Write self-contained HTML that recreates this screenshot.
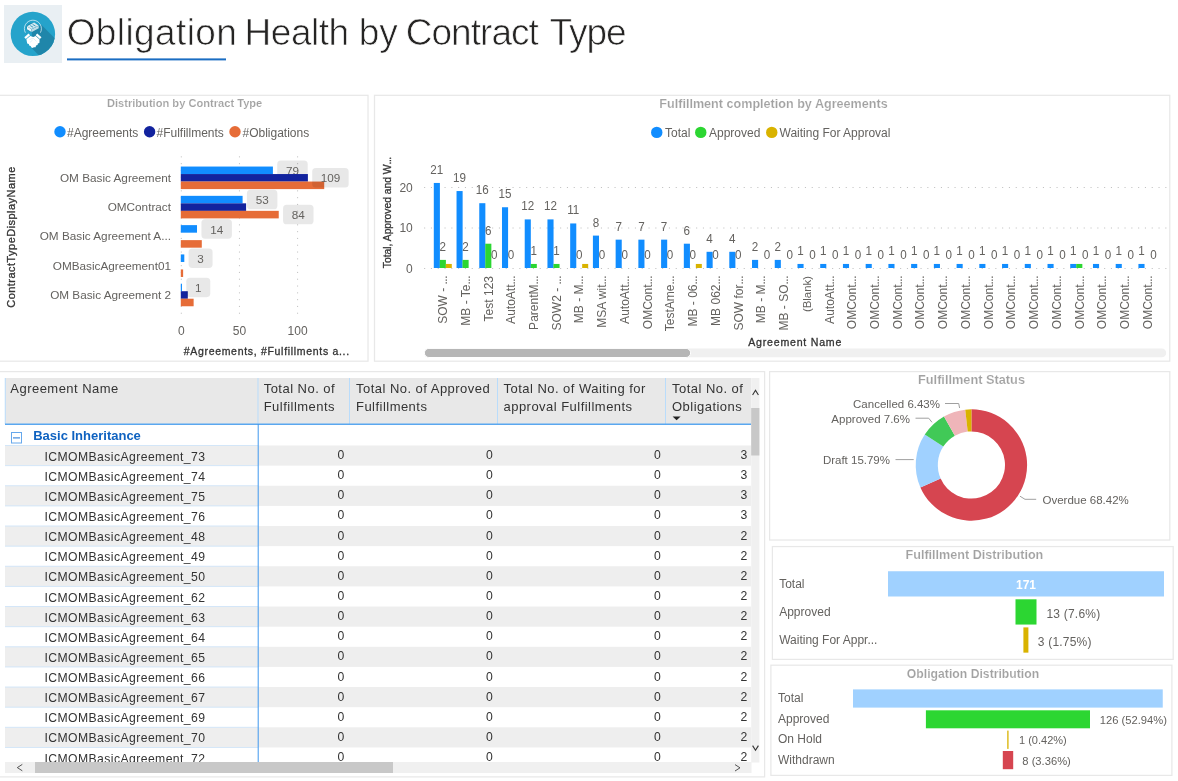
<!DOCTYPE html>
<html><head><meta charset="utf-8"><title>Obligation Health by Contract Type</title>
<style>html,body{margin:0;padding:0;background:#fff;overflow:hidden}body{width:1178px;height:781px;font-family:"Liberation Sans",sans-serif}svg{display:block;will-change:transform;font-family:"Liberation Sans",sans-serif}text{white-space:pre}</style></head><body>
<svg width="1178" height="781" viewBox="0 0 1178 781">
<rect width="1178" height="781" fill="#fff"/>
<rect x="4.00" y="5.00" width="58.00" height="58.00" fill="#e9eff3"/>
<defs><clipPath id="cc"><circle cx="32.9" cy="33.9" r="22.2"/></clipPath></defs>
<circle cx="32.9" cy="33.9" r="22.2" fill="#25a3cb"/>
<g clip-path="url(#cc)"><polygon points="41.3,24.7 62,45.4 46,62.5 31.6,48.1 32,30" fill="#1f86aa"/></g>
<ellipse cx="32.9" cy="27.6" rx="6.6" ry="4.6" fill="#1f86aa" opacity="0.85"/>
<path d="M25.4,32.7 A8.5,8.5 0 1 1 40.4,32.7" fill="none" stroke="#fff" stroke-width="0.7" opacity="0.92"/>
<path d="M27.0,26.3 L34.1,22.6 L38.7,25.4 L31.6,29.0 Z" fill="#fff" opacity="0.82"/>
<path d="M27.0,26.6 L31.5,29.3 L31.5,31.9 L27.0,29.2 Z" fill="#fff" opacity="0.92"/>
<path d="M31.9,29.3 L38.7,25.8 L38.7,28.3 L31.9,31.9 Z" fill="#fff" opacity="0.72"/>
<path d="M30.3,25.6 L33.2,27.3 M32.6,24.4 L35.6,26.1" fill="none" stroke="#2a93b8" stroke-width="0.9"/>
<g fill="#fff">
<path d="M24.3,37.3 L28.6,33.6 L30.1,35.2 L25.8,38.9 Z"/>
<path d="M41.5,37.3 L37.2,33.6 L35.6,35.2 L39.9,38.9 Z"/>
<path d="M26.4,39.2 L30.3,35.9 L33.2,37.0 L35.7,35.9 L39.6,39.4 L39.4,43.0 L37.8,43.4 L37.6,45.0 L36.0,45.4 L35.6,47.2 L33.6,47.2 L33.0,48.0 L31.4,47.4 L30.6,46.0 L29.2,45.6 L28.8,44.0 L27.2,43.4 Z"/>
</g>
<path d="M29.4,39.6 L33.0,38.2 L36.6,41.4 M30.0,42.4 L32.6,40.0" fill="none" stroke="#bfe3ef" stroke-width="0.5"/>
<text x="66.7" y="44.8" font-size="37" fill="#252423" stroke="#fff" stroke-width="0.7" letter-spacing="0.4" style="paint-order:fill stroke">Obligation</text>
<text x="244.6" y="44.8" font-size="37" fill="#252423" stroke="#fff" stroke-width="0.7" letter-spacing="-0.5" style="paint-order:fill stroke">Health</text>
<text x="358.7" y="44.8" font-size="37" fill="#252423" stroke="#fff" stroke-width="0.7" letter-spacing="0.1" style="paint-order:fill stroke">by</text>
<text x="405.7" y="44.8" font-size="37" fill="#252423" stroke="#fff" stroke-width="0.7" letter-spacing="-0.95" style="paint-order:fill stroke">Contract</text>
<text x="549.6" y="44.8" font-size="37" fill="#252423" stroke="#fff" stroke-width="0.7" letter-spacing="-1.1" style="paint-order:fill stroke">Type</text>
<rect x="67.00" y="58.40" width="159.00" height="2.00" fill="#1a6dc2"/>
<rect x="-2" y="95.3" width="370.00" height="265.90" fill="#fff" stroke="#e8e8e8" stroke-width="1.25"/>
<text transform="translate(184.60 106.82) scale(0.968 1)" font-size="11.5" fill="#a2a2a2" text-anchor="middle" font-weight="bold" stroke="#fff" stroke-width="0.15" style="paint-order:fill stroke">Distribution by Contract Type</text>
<circle cx="60" cy="131.7" r="5.7" fill="#118dff"/>
<text x="67.00" y="136.50" font-size="12" fill="#64625f">#Agreements</text>
<circle cx="149.6" cy="131.7" r="5.7" fill="#12239e"/>
<text x="156.50" y="136.50" font-size="12" fill="#64625f">#Fulfillments</text>
<circle cx="235" cy="131.7" r="5.7" fill="#e66c37"/>
<text x="242.50" y="136.50" font-size="12" fill="#64625f">#Obligations</text>
<line x1="181.30" y1="156.3" x2="181.30" y2="318" stroke="#c2c2c2" stroke-width="1" stroke-dasharray="1.1 5.7"/>
<text x="181.30" y="335.30" font-size="12" fill="#64625f" text-anchor="middle">0</text>
<line x1="239.45" y1="156.3" x2="239.45" y2="318" stroke="#c2c2c2" stroke-width="1" stroke-dasharray="1.1 5.7"/>
<text x="239.45" y="335.30" font-size="12" fill="#64625f" text-anchor="middle">50</text>
<line x1="297.60" y1="156.3" x2="297.60" y2="318" stroke="#c2c2c2" stroke-width="1" stroke-dasharray="1.1 5.7"/>
<text x="297.60" y="335.30" font-size="12" fill="#64625f" text-anchor="middle">100</text>
<text x="171.00" y="181.71" font-size="11.75" fill="#64625f" text-anchor="end">OM Basic Agreement</text>
<text x="171.00" y="211.00" font-size="11.75" fill="#64625f" text-anchor="end">OMContract</text>
<text x="171.00" y="240.29" font-size="11.75" fill="#64625f" text-anchor="end">OM Basic Agreement A...</text>
<text x="171.00" y="269.58" font-size="11.75" fill="#64625f" text-anchor="end">OMBasicAgreement01</text>
<text x="171.00" y="298.87" font-size="11.75" fill="#64625f" text-anchor="end">OM Basic Agreement 2</text>
<rect x="180.80" y="166.55" width="92.11" height="7.50" fill="#118dff"/>
<rect x="277.21" y="160.55" width="30.5" height="19.5" rx="3.6" fill="#000" fill-opacity="0.092"/>
<text x="292.46" y="174.99" font-size="11.7" fill="#64625f" text-anchor="middle">79</text>
<rect x="180.80" y="174.05" width="127.09" height="7.55" fill="#12239e"/>
<rect x="180.80" y="181.55" width="143.42" height="7.55" fill="#e66c37"/>
<rect x="180.80" y="195.84" width="61.80" height="7.55" fill="#118dff"/>
<rect x="180.80" y="203.34" width="65.30" height="7.55" fill="#12239e"/>
<rect x="180.80" y="210.84" width="97.94" height="7.55" fill="#e66c37"/>
<rect x="180.80" y="225.13" width="16.21" height="7.55" fill="#118dff"/>
<rect x="180.80" y="240.13" width="20.99" height="7.55" fill="#e66c37"/>
<rect x="180.80" y="254.42" width="3.50" height="7.55" fill="#118dff"/>
<rect x="180.80" y="269.42" width="2.33" height="7.55" fill="#e66c37"/>
<rect x="180.80" y="283.71" width="1.17" height="7.55" fill="#118dff"/>
<rect x="180.80" y="291.21" width="7.00" height="7.55" fill="#12239e"/>
<rect x="180.80" y="298.71" width="12.83" height="7.55" fill="#e66c37"/>
<rect x="312.19" y="168.05" width="36.5" height="19.5" rx="3.6" fill="#000" fill-opacity="0.092"/>
<text x="330.44" y="182.49" font-size="11.7" fill="#64625f" text-anchor="middle">109</text>
<rect x="246.90" y="189.84" width="30.5" height="19.5" rx="3.6" fill="#000" fill-opacity="0.092"/>
<text x="262.15" y="204.28" font-size="11.7" fill="#64625f" text-anchor="middle">53</text>
<rect x="283.04" y="204.84" width="30.5" height="19.5" rx="3.6" fill="#000" fill-opacity="0.092"/>
<text x="298.29" y="219.28" font-size="11.7" fill="#64625f" text-anchor="middle">84</text>
<rect x="201.42" y="219.13" width="30.5" height="19.5" rx="3.6" fill="#000" fill-opacity="0.092"/>
<text x="216.67" y="233.57" font-size="11.7" fill="#64625f" text-anchor="middle">14</text>
<rect x="188.60" y="248.42" width="24" height="19.5" rx="3.6" fill="#000" fill-opacity="0.092"/>
<text x="200.60" y="262.86" font-size="11.7" fill="#64625f" text-anchor="middle">3</text>
<rect x="186.27" y="277.71" width="24" height="19.5" rx="3.6" fill="#000" fill-opacity="0.092"/>
<text x="198.27" y="292.15" font-size="11.7" fill="#64625f" text-anchor="middle">1</text>
<text x="183.70" y="354.76" font-size="10.5" fill="#333" letter-spacing="0.69" stroke="#333" stroke-width="0.3">#Agreements, #Fulfillments a...</text>
<text transform="translate(15.30 237.00) rotate(-90)" font-size="11" fill="#333" text-anchor="middle" letter-spacing="0.46" stroke="#333" stroke-width="0.3">ContractTypeDisplayName</text>
<rect x="374.5" y="95.3" width="795.25" height="265.90" fill="#fff" stroke="#e8e8e8" stroke-width="1.25"/>
<text transform="translate(773.50 107.81) scale(1.0 1)" font-size="12.6" fill="#a2a2a2" text-anchor="middle" font-weight="bold" stroke="#fff" stroke-width="0.15" style="paint-order:fill stroke">Fulfillment completion by Agreements</text>
<circle cx="656.75" cy="132.4" r="5.7" fill="#118dff"/>
<text x="665.00" y="137.20" font-size="12" fill="#64625f">Total</text>
<circle cx="700.75" cy="132.4" r="5.7" fill="#2cd632"/>
<text x="709.00" y="137.20" font-size="12" fill="#64625f">Approved</text>
<circle cx="771.75" cy="132.4" r="5.7" fill="#d9b300"/>
<text x="779.50" y="137.20" font-size="12" fill="#64625f">Waiting For Approval</text>
<line x1="424.1" y1="268.50" x2="1167" y2="268.50" stroke="#c2c2c2" stroke-width="1" stroke-dasharray="1.1 5.7"/>
<text x="412.80" y="272.90" font-size="12" fill="#64625f" text-anchor="end">0</text>
<line x1="424.1" y1="228.00" x2="1167" y2="228.00" stroke="#c2c2c2" stroke-width="1" stroke-dasharray="1.1 5.7"/>
<text x="412.80" y="232.40" font-size="12" fill="#64625f" text-anchor="end">10</text>
<line x1="424.1" y1="187.50" x2="1167" y2="187.50" stroke="#c2c2c2" stroke-width="1" stroke-dasharray="1.1 5.7"/>
<text x="412.80" y="191.90" font-size="12" fill="#64625f" text-anchor="end">20</text>
<text transform="translate(390.60 268.20) rotate(-90) scale(0.983 1)" font-size="10.5" fill="#333" text-anchor="start" stroke="#333" stroke-width="0.3">Total, Approved and W<tspan letter-spacing="-0.5">...</tspan></text>
<rect x="433.80" y="182.95" width="6.10" height="85.05" fill="#118dff"/>
<rect x="439.80" y="259.90" width="6.10" height="8.10" fill="#2cd632"/>
<rect x="445.80" y="263.95" width="6.00" height="4.05" fill="#d9b300"/>
<text transform="translate(436.80 173.89) scale(0.94 1)" font-size="12.4" fill="#64625f" text-anchor="middle">21</text>
<text transform="translate(442.80 250.84) scale(0.94 1)" font-size="12.4" fill="#64625f" text-anchor="middle">2</text>
<text transform="translate(447.10 276.00) rotate(-90)" font-size="12" fill="#64625f" text-anchor="end">SOW - <tspan letter-spacing="-0.5">...</tspan></text>
<rect x="456.53" y="191.05" width="6.10" height="76.95" fill="#118dff"/>
<rect x="462.53" y="259.90" width="6.10" height="8.10" fill="#2cd632"/>
<text transform="translate(459.53 181.99) scale(0.94 1)" font-size="12.4" fill="#64625f" text-anchor="middle">19</text>
<text transform="translate(465.53 250.84) scale(0.94 1)" font-size="12.4" fill="#64625f" text-anchor="middle">2</text>
<text transform="translate(469.83 276.00) rotate(-90)" font-size="12" fill="#64625f" text-anchor="end">MB - Te<tspan letter-spacing="-0.5">...</tspan></text>
<rect x="479.26" y="203.20" width="6.10" height="64.80" fill="#118dff"/>
<rect x="485.26" y="243.70" width="6.10" height="24.30" fill="#2cd632"/>
<text transform="translate(482.26 194.14) scale(0.94 1)" font-size="12.4" fill="#64625f" text-anchor="middle">16</text>
<text transform="translate(488.26 234.64) scale(0.94 1)" font-size="12.4" fill="#64625f" text-anchor="middle">6</text>
<text transform="translate(494.26 258.94) scale(0.94 1)" font-size="12.4" fill="#64625f" text-anchor="middle">0</text>
<text transform="translate(492.56 276.00) rotate(-90)" font-size="12" fill="#64625f" text-anchor="end">Test 123</text>
<rect x="501.99" y="207.25" width="6.10" height="60.75" fill="#118dff"/>
<text transform="translate(504.99 198.19) scale(0.94 1)" font-size="12.4" fill="#64625f" text-anchor="middle">15</text>
<text transform="translate(510.99 258.94) scale(0.94 1)" font-size="12.4" fill="#64625f" text-anchor="middle">0</text>
<text transform="translate(515.29 276.00) rotate(-90)" font-size="12" fill="#64625f" text-anchor="end">AutoAtt<tspan letter-spacing="-0.5">...</tspan></text>
<rect x="524.72" y="219.40" width="6.10" height="48.60" fill="#118dff"/>
<rect x="530.72" y="263.95" width="6.10" height="4.05" fill="#2cd632"/>
<text transform="translate(527.72 210.34) scale(0.94 1)" font-size="12.4" fill="#64625f" text-anchor="middle">12</text>
<text transform="translate(533.72 254.89) scale(0.94 1)" font-size="12.4" fill="#64625f" text-anchor="middle">1</text>
<text transform="translate(538.02 276.00) rotate(-90)" font-size="12" fill="#64625f" text-anchor="end">ParentM<tspan letter-spacing="-0.5">...</tspan></text>
<rect x="547.45" y="219.40" width="6.10" height="48.60" fill="#118dff"/>
<rect x="553.45" y="263.95" width="6.10" height="4.05" fill="#2cd632"/>
<text transform="translate(550.45 210.34) scale(0.94 1)" font-size="12.4" fill="#64625f" text-anchor="middle">12</text>
<text transform="translate(556.45 254.89) scale(0.94 1)" font-size="12.4" fill="#64625f" text-anchor="middle">1</text>
<text transform="translate(560.75 276.00) rotate(-90)" font-size="12" fill="#64625f" text-anchor="end">SOW2 - <tspan letter-spacing="-0.5">...</tspan></text>
<rect x="570.18" y="223.45" width="6.10" height="44.55" fill="#118dff"/>
<rect x="582.18" y="263.95" width="6.00" height="4.05" fill="#d9b300"/>
<text transform="translate(573.18 214.39) scale(0.94 1)" font-size="12.4" fill="#64625f" text-anchor="middle">11</text>
<text transform="translate(579.18 258.94) scale(0.94 1)" font-size="12.4" fill="#64625f" text-anchor="middle">0</text>
<text transform="translate(583.48 276.00) rotate(-90)" font-size="12" fill="#64625f" text-anchor="end">MB - M<tspan letter-spacing="-0.5">...</tspan></text>
<rect x="592.91" y="235.60" width="6.10" height="32.40" fill="#118dff"/>
<text transform="translate(595.91 226.54) scale(0.94 1)" font-size="12.4" fill="#64625f" text-anchor="middle">8</text>
<text transform="translate(601.91 258.94) scale(0.94 1)" font-size="12.4" fill="#64625f" text-anchor="middle">0</text>
<text transform="translate(606.21 276.00) rotate(-90)" font-size="12" fill="#64625f" text-anchor="end">MSA wit<tspan letter-spacing="-0.5">...</tspan></text>
<rect x="615.64" y="239.65" width="6.10" height="28.35" fill="#118dff"/>
<text transform="translate(618.64 230.59) scale(0.94 1)" font-size="12.4" fill="#64625f" text-anchor="middle">7</text>
<text transform="translate(624.64 258.94) scale(0.94 1)" font-size="12.4" fill="#64625f" text-anchor="middle">0</text>
<text transform="translate(628.94 276.00) rotate(-90)" font-size="12" fill="#64625f" text-anchor="end">AutoAtt<tspan letter-spacing="-0.5">...</tspan></text>
<rect x="638.37" y="239.65" width="6.10" height="28.35" fill="#118dff"/>
<text transform="translate(641.37 230.59) scale(0.94 1)" font-size="12.4" fill="#64625f" text-anchor="middle">7</text>
<text transform="translate(647.37 258.94) scale(0.94 1)" font-size="12.4" fill="#64625f" text-anchor="middle">0</text>
<text transform="translate(651.67 276.00) rotate(-90)" font-size="12" fill="#64625f" text-anchor="end">OMCont<tspan letter-spacing="-0.5">...</tspan></text>
<rect x="661.10" y="239.65" width="6.10" height="28.35" fill="#118dff"/>
<text transform="translate(664.10 230.59) scale(0.94 1)" font-size="12.4" fill="#64625f" text-anchor="middle">7</text>
<text transform="translate(670.10 258.94) scale(0.94 1)" font-size="12.4" fill="#64625f" text-anchor="middle">0</text>
<text transform="translate(674.40 276.00) rotate(-90)" font-size="12" fill="#64625f" text-anchor="end">TestAme<tspan letter-spacing="-0.5">...</tspan></text>
<rect x="683.83" y="243.70" width="6.10" height="24.30" fill="#118dff"/>
<rect x="695.83" y="263.95" width="6.00" height="4.05" fill="#d9b300"/>
<text transform="translate(686.83 234.64) scale(0.94 1)" font-size="12.4" fill="#64625f" text-anchor="middle">6</text>
<text transform="translate(692.83 258.94) scale(0.94 1)" font-size="12.4" fill="#64625f" text-anchor="middle">0</text>
<text transform="translate(697.13 276.00) rotate(-90)" font-size="12" fill="#64625f" text-anchor="end">MB - 06<tspan letter-spacing="-0.5">...</tspan></text>
<rect x="706.56" y="251.80" width="6.10" height="16.20" fill="#118dff"/>
<text transform="translate(709.56 242.74) scale(0.94 1)" font-size="12.4" fill="#64625f" text-anchor="middle">4</text>
<text transform="translate(715.56 258.94) scale(0.94 1)" font-size="12.4" fill="#64625f" text-anchor="middle">0</text>
<text transform="translate(719.86 276.00) rotate(-90)" font-size="12" fill="#64625f" text-anchor="end">MB 062<tspan letter-spacing="-0.5">...</tspan></text>
<rect x="729.29" y="251.80" width="6.10" height="16.20" fill="#118dff"/>
<text transform="translate(732.29 242.74) scale(0.94 1)" font-size="12.4" fill="#64625f" text-anchor="middle">4</text>
<text transform="translate(738.29 258.94) scale(0.94 1)" font-size="12.4" fill="#64625f" text-anchor="middle">0</text>
<text transform="translate(742.59 276.00) rotate(-90)" font-size="12" fill="#64625f" text-anchor="end">SOW for<tspan letter-spacing="-0.5">...</tspan></text>
<rect x="752.02" y="259.90" width="6.10" height="8.10" fill="#118dff"/>
<text transform="translate(755.02 250.84) scale(0.94 1)" font-size="12.4" fill="#64625f" text-anchor="middle">2</text>
<text transform="translate(767.02 258.94) scale(0.94 1)" font-size="12.4" fill="#64625f" text-anchor="middle">0</text>
<text transform="translate(765.32 276.00) rotate(-90)" font-size="12" fill="#64625f" text-anchor="end">MB - M<tspan letter-spacing="-0.5">...</tspan></text>
<rect x="774.75" y="259.90" width="6.10" height="8.10" fill="#118dff"/>
<text transform="translate(777.75 250.84) scale(0.94 1)" font-size="12.4" fill="#64625f" text-anchor="middle">2</text>
<text transform="translate(789.75 258.94) scale(0.94 1)" font-size="12.4" fill="#64625f" text-anchor="middle">0</text>
<text transform="translate(788.05 276.00) rotate(-90)" font-size="12" fill="#64625f" text-anchor="end">MB - SO<tspan letter-spacing="-0.5">...</tspan></text>
<rect x="797.48" y="263.95" width="6.10" height="4.05" fill="#118dff"/>
<text transform="translate(800.48 254.89) scale(0.94 1)" font-size="12.4" fill="#64625f" text-anchor="middle">1</text>
<text transform="translate(812.48 258.94) scale(0.94 1)" font-size="12.4" fill="#64625f" text-anchor="middle">0</text>
<text transform="translate(810.78 276.00) rotate(-90)" font-size="11.4" fill="#64625f" text-anchor="end">(Blank)</text>
<rect x="820.21" y="263.95" width="6.10" height="4.05" fill="#118dff"/>
<text transform="translate(823.21 254.89) scale(0.94 1)" font-size="12.4" fill="#64625f" text-anchor="middle">1</text>
<text transform="translate(835.21 258.94) scale(0.94 1)" font-size="12.4" fill="#64625f" text-anchor="middle">0</text>
<text transform="translate(833.51 276.00) rotate(-90)" font-size="12" fill="#64625f" text-anchor="end">AutoAtt<tspan letter-spacing="-0.5">...</tspan></text>
<rect x="842.94" y="263.95" width="6.10" height="4.05" fill="#118dff"/>
<text transform="translate(845.94 254.89) scale(0.94 1)" font-size="12.4" fill="#64625f" text-anchor="middle">1</text>
<text transform="translate(857.94 258.94) scale(0.94 1)" font-size="12.4" fill="#64625f" text-anchor="middle">0</text>
<text transform="translate(856.24 276.00) rotate(-90)" font-size="12" fill="#64625f" text-anchor="end">OMCont<tspan letter-spacing="-0.5">...</tspan></text>
<rect x="865.67" y="263.95" width="6.10" height="4.05" fill="#118dff"/>
<text transform="translate(868.67 254.89) scale(0.94 1)" font-size="12.4" fill="#64625f" text-anchor="middle">1</text>
<text transform="translate(880.67 258.94) scale(0.94 1)" font-size="12.4" fill="#64625f" text-anchor="middle">0</text>
<text transform="translate(878.97 276.00) rotate(-90)" font-size="12" fill="#64625f" text-anchor="end">OMCont<tspan letter-spacing="-0.5">...</tspan></text>
<rect x="888.40" y="263.95" width="6.10" height="4.05" fill="#118dff"/>
<text transform="translate(891.40 254.89) scale(0.94 1)" font-size="12.4" fill="#64625f" text-anchor="middle">1</text>
<text transform="translate(903.40 258.94) scale(0.94 1)" font-size="12.4" fill="#64625f" text-anchor="middle">0</text>
<text transform="translate(901.70 276.00) rotate(-90)" font-size="12" fill="#64625f" text-anchor="end">OMCont<tspan letter-spacing="-0.5">...</tspan></text>
<rect x="911.13" y="263.95" width="6.10" height="4.05" fill="#118dff"/>
<text transform="translate(914.13 254.89) scale(0.94 1)" font-size="12.4" fill="#64625f" text-anchor="middle">1</text>
<text transform="translate(926.13 258.94) scale(0.94 1)" font-size="12.4" fill="#64625f" text-anchor="middle">0</text>
<text transform="translate(924.43 276.00) rotate(-90)" font-size="12" fill="#64625f" text-anchor="end">OMCont<tspan letter-spacing="-0.5">...</tspan></text>
<rect x="933.86" y="263.95" width="6.10" height="4.05" fill="#118dff"/>
<text transform="translate(936.86 254.89) scale(0.94 1)" font-size="12.4" fill="#64625f" text-anchor="middle">1</text>
<text transform="translate(948.86 258.94) scale(0.94 1)" font-size="12.4" fill="#64625f" text-anchor="middle">0</text>
<text transform="translate(947.16 276.00) rotate(-90)" font-size="12" fill="#64625f" text-anchor="end">OMCont<tspan letter-spacing="-0.5">...</tspan></text>
<rect x="956.59" y="263.95" width="6.10" height="4.05" fill="#118dff"/>
<text transform="translate(959.59 254.89) scale(0.94 1)" font-size="12.4" fill="#64625f" text-anchor="middle">1</text>
<text transform="translate(971.59 258.94) scale(0.94 1)" font-size="12.4" fill="#64625f" text-anchor="middle">0</text>
<text transform="translate(969.89 276.00) rotate(-90)" font-size="12" fill="#64625f" text-anchor="end">OMCont<tspan letter-spacing="-0.5">...</tspan></text>
<rect x="979.32" y="263.95" width="6.10" height="4.05" fill="#118dff"/>
<text transform="translate(982.32 254.89) scale(0.94 1)" font-size="12.4" fill="#64625f" text-anchor="middle">1</text>
<text transform="translate(994.32 258.94) scale(0.94 1)" font-size="12.4" fill="#64625f" text-anchor="middle">0</text>
<text transform="translate(992.62 276.00) rotate(-90)" font-size="12" fill="#64625f" text-anchor="end">OMCont<tspan letter-spacing="-0.5">...</tspan></text>
<rect x="1002.05" y="263.95" width="6.10" height="4.05" fill="#118dff"/>
<text transform="translate(1005.05 254.89) scale(0.94 1)" font-size="12.4" fill="#64625f" text-anchor="middle">1</text>
<text transform="translate(1017.05 258.94) scale(0.94 1)" font-size="12.4" fill="#64625f" text-anchor="middle">0</text>
<text transform="translate(1015.35 276.00) rotate(-90)" font-size="12" fill="#64625f" text-anchor="end">OMCont<tspan letter-spacing="-0.5">...</tspan></text>
<rect x="1024.78" y="263.95" width="6.10" height="4.05" fill="#118dff"/>
<text transform="translate(1027.78 254.89) scale(0.94 1)" font-size="12.4" fill="#64625f" text-anchor="middle">1</text>
<text transform="translate(1039.78 258.94) scale(0.94 1)" font-size="12.4" fill="#64625f" text-anchor="middle">0</text>
<text transform="translate(1038.08 276.00) rotate(-90)" font-size="12" fill="#64625f" text-anchor="end">OMCont<tspan letter-spacing="-0.5">...</tspan></text>
<rect x="1047.51" y="263.95" width="6.10" height="4.05" fill="#118dff"/>
<text transform="translate(1050.51 254.89) scale(0.94 1)" font-size="12.4" fill="#64625f" text-anchor="middle">1</text>
<text transform="translate(1062.51 258.94) scale(0.94 1)" font-size="12.4" fill="#64625f" text-anchor="middle">0</text>
<text transform="translate(1060.81 276.00) rotate(-90)" font-size="12" fill="#64625f" text-anchor="end">OMCont<tspan letter-spacing="-0.5">...</tspan></text>
<rect x="1070.24" y="263.95" width="6.10" height="4.05" fill="#118dff"/>
<rect x="1076.24" y="263.95" width="6.10" height="4.05" fill="#2cd632"/>
<text transform="translate(1073.24 254.89) scale(0.94 1)" font-size="12.4" fill="#64625f" text-anchor="middle">1</text>
<text transform="translate(1085.24 258.94) scale(0.94 1)" font-size="12.4" fill="#64625f" text-anchor="middle">0</text>
<text transform="translate(1083.54 276.00) rotate(-90)" font-size="12" fill="#64625f" text-anchor="end">OMCont<tspan letter-spacing="-0.5">...</tspan></text>
<rect x="1092.97" y="263.95" width="6.10" height="4.05" fill="#118dff"/>
<text transform="translate(1095.97 254.89) scale(0.94 1)" font-size="12.4" fill="#64625f" text-anchor="middle">1</text>
<text transform="translate(1107.97 258.94) scale(0.94 1)" font-size="12.4" fill="#64625f" text-anchor="middle">0</text>
<text transform="translate(1106.27 276.00) rotate(-90)" font-size="12" fill="#64625f" text-anchor="end">OMCont<tspan letter-spacing="-0.5">...</tspan></text>
<rect x="1115.70" y="263.95" width="6.10" height="4.05" fill="#118dff"/>
<text transform="translate(1118.70 254.89) scale(0.94 1)" font-size="12.4" fill="#64625f" text-anchor="middle">1</text>
<text transform="translate(1130.70 258.94) scale(0.94 1)" font-size="12.4" fill="#64625f" text-anchor="middle">0</text>
<text transform="translate(1129.00 276.00) rotate(-90)" font-size="12" fill="#64625f" text-anchor="end">OMCont<tspan letter-spacing="-0.5">...</tspan></text>
<rect x="1138.43" y="263.95" width="6.10" height="4.05" fill="#118dff"/>
<text transform="translate(1141.43 254.89) scale(0.94 1)" font-size="12.4" fill="#64625f" text-anchor="middle">1</text>
<text transform="translate(1153.43 258.94) scale(0.94 1)" font-size="12.4" fill="#64625f" text-anchor="middle">0</text>
<text transform="translate(1151.73 276.00) rotate(-90)" font-size="12" fill="#64625f" text-anchor="end">OMCont<tspan letter-spacing="-0.5">...</tspan></text>
<text x="795.20" y="345.69" font-size="10.6" fill="#333" text-anchor="middle" letter-spacing="0.77" stroke="#333" stroke-width="0.3">Agreement Name</text>
<rect x="424.6" y="348.6" width="741.6" height="8.7" rx="4.3" fill="#f0f0f0"/>
<rect x="424.4" y="348.4" width="266.2" height="9.1" rx="4.5" fill="#b6b6b6" stroke="#fff" stroke-width="1"/>
<rect x="-2" y="371.6" width="766.60" height="405.30" fill="#fff" stroke="#e8e8e8" stroke-width="1.25"/>
<rect x="5.00" y="378.00" width="746.00" height="46.00" fill="#e8e8e8"/>
<line x1="258" y1="378" x2="258" y2="424" stroke="#b9dcfb" stroke-width="1"/>
<line x1="349.5" y1="378" x2="349.5" y2="424" stroke="#b9dcfb" stroke-width="1"/>
<line x1="497.5" y1="378" x2="497.5" y2="424" stroke="#b9dcfb" stroke-width="1"/>
<line x1="665.5" y1="378" x2="665.5" y2="424" stroke="#b9dcfb" stroke-width="1"/>
<line x1="5.25" y1="378" x2="5.25" y2="424" stroke="#b9dcfb" stroke-width="1"/>
<text x="10.30" y="393.00" font-size="13" fill="#333" letter-spacing="0.47">Agreement Name</text>
<text x="263.70" y="393.00" font-size="13" fill="#333" letter-spacing="0.47">Total No. of</text>
<text x="263.70" y="410.80" font-size="13" fill="#333" letter-spacing="0.47">Fulfillments</text>
<text x="356.00" y="393.00" font-size="13" fill="#333" letter-spacing="0.47">Total No. of Approved</text>
<text x="356.00" y="410.80" font-size="13" fill="#333" letter-spacing="0.47">Fulfillments</text>
<text x="503.50" y="393.00" font-size="13" fill="#333" letter-spacing="0.47">Total No. of Waiting for</text>
<text x="503.50" y="410.80" font-size="13" fill="#333" letter-spacing="0.47">approval Fulfillments</text>
<text x="672.00" y="393.00" font-size="13" fill="#333" letter-spacing="0.47">Total No. of</text>
<text x="672.00" y="410.80" font-size="13" fill="#333" letter-spacing="0.47">Obligations</text>
<path d="M672.6,416.4 L680.6,416.4 L676.6,420.2 Z" fill="#222"/>
<defs><clipPath id="tc"><rect x="0" y="424" width="751" height="338"/></clipPath></defs>
<g clip-path="url(#tc)">
<rect x="5.00" y="445.50" width="746.00" height="20.13" fill="#eeeeee"/>
<line x1="5" y1="445.50" x2="258" y2="445.50" stroke="#d3e6f8" stroke-width="1"/>
<text x="44.50" y="460.60" font-size="12.2" fill="#333" letter-spacing="0.42">ICMOMBasicAgreement_73</text>
<text x="344.20" y="459.10" font-size="12.2" fill="#333" text-anchor="end">0</text>
<text x="492.90" y="459.10" font-size="12.2" fill="#333" text-anchor="end">0</text>
<text x="660.70" y="459.10" font-size="12.2" fill="#333" text-anchor="end">0</text>
<text x="747.20" y="459.10" font-size="12.2" fill="#333" text-anchor="end">3</text>
<line x1="5" y1="465.63" x2="258" y2="465.63" stroke="#d3e6f8" stroke-width="1"/>
<text x="44.50" y="480.73" font-size="12.2" fill="#333" letter-spacing="0.42">ICMOMBasicAgreement_74</text>
<text x="344.20" y="479.23" font-size="12.2" fill="#333" text-anchor="end">0</text>
<text x="492.90" y="479.23" font-size="12.2" fill="#333" text-anchor="end">0</text>
<text x="660.70" y="479.23" font-size="12.2" fill="#333" text-anchor="end">0</text>
<text x="747.20" y="479.23" font-size="12.2" fill="#333" text-anchor="end">3</text>
<rect x="5.00" y="485.76" width="746.00" height="20.13" fill="#eeeeee"/>
<line x1="5" y1="485.76" x2="258" y2="485.76" stroke="#d3e6f8" stroke-width="1"/>
<text x="44.50" y="500.86" font-size="12.2" fill="#333" letter-spacing="0.42">ICMOMBasicAgreement_75</text>
<text x="344.20" y="499.36" font-size="12.2" fill="#333" text-anchor="end">0</text>
<text x="492.90" y="499.36" font-size="12.2" fill="#333" text-anchor="end">0</text>
<text x="660.70" y="499.36" font-size="12.2" fill="#333" text-anchor="end">0</text>
<text x="747.20" y="499.36" font-size="12.2" fill="#333" text-anchor="end">3</text>
<line x1="5" y1="505.89" x2="258" y2="505.89" stroke="#d3e6f8" stroke-width="1"/>
<text x="44.50" y="520.99" font-size="12.2" fill="#333" letter-spacing="0.42">ICMOMBasicAgreement_76</text>
<text x="344.20" y="519.49" font-size="12.2" fill="#333" text-anchor="end">0</text>
<text x="492.90" y="519.49" font-size="12.2" fill="#333" text-anchor="end">0</text>
<text x="660.70" y="519.49" font-size="12.2" fill="#333" text-anchor="end">0</text>
<text x="747.20" y="519.49" font-size="12.2" fill="#333" text-anchor="end">3</text>
<rect x="5.00" y="526.02" width="746.00" height="20.13" fill="#eeeeee"/>
<line x1="5" y1="526.02" x2="258" y2="526.02" stroke="#d3e6f8" stroke-width="1"/>
<text x="44.50" y="541.12" font-size="12.2" fill="#333" letter-spacing="0.42">ICMOMBasicAgreement_48</text>
<text x="344.20" y="539.62" font-size="12.2" fill="#333" text-anchor="end">0</text>
<text x="492.90" y="539.62" font-size="12.2" fill="#333" text-anchor="end">0</text>
<text x="660.70" y="539.62" font-size="12.2" fill="#333" text-anchor="end">0</text>
<text x="747.20" y="539.62" font-size="12.2" fill="#333" text-anchor="end">2</text>
<line x1="5" y1="546.15" x2="258" y2="546.15" stroke="#d3e6f8" stroke-width="1"/>
<text x="44.50" y="561.25" font-size="12.2" fill="#333" letter-spacing="0.42">ICMOMBasicAgreement_49</text>
<text x="344.20" y="559.75" font-size="12.2" fill="#333" text-anchor="end">0</text>
<text x="492.90" y="559.75" font-size="12.2" fill="#333" text-anchor="end">0</text>
<text x="660.70" y="559.75" font-size="12.2" fill="#333" text-anchor="end">0</text>
<text x="747.20" y="559.75" font-size="12.2" fill="#333" text-anchor="end">2</text>
<rect x="5.00" y="566.28" width="746.00" height="20.13" fill="#eeeeee"/>
<line x1="5" y1="566.28" x2="258" y2="566.28" stroke="#d3e6f8" stroke-width="1"/>
<text x="44.50" y="581.38" font-size="12.2" fill="#333" letter-spacing="0.42">ICMOMBasicAgreement_50</text>
<text x="344.20" y="579.88" font-size="12.2" fill="#333" text-anchor="end">0</text>
<text x="492.90" y="579.88" font-size="12.2" fill="#333" text-anchor="end">0</text>
<text x="660.70" y="579.88" font-size="12.2" fill="#333" text-anchor="end">0</text>
<text x="747.20" y="579.88" font-size="12.2" fill="#333" text-anchor="end">2</text>
<line x1="5" y1="586.41" x2="258" y2="586.41" stroke="#d3e6f8" stroke-width="1"/>
<text x="44.50" y="601.51" font-size="12.2" fill="#333" letter-spacing="0.42">ICMOMBasicAgreement_62</text>
<text x="344.20" y="600.01" font-size="12.2" fill="#333" text-anchor="end">0</text>
<text x="492.90" y="600.01" font-size="12.2" fill="#333" text-anchor="end">0</text>
<text x="660.70" y="600.01" font-size="12.2" fill="#333" text-anchor="end">0</text>
<text x="747.20" y="600.01" font-size="12.2" fill="#333" text-anchor="end">2</text>
<rect x="5.00" y="606.54" width="746.00" height="20.13" fill="#eeeeee"/>
<line x1="5" y1="606.54" x2="258" y2="606.54" stroke="#d3e6f8" stroke-width="1"/>
<text x="44.50" y="621.64" font-size="12.2" fill="#333" letter-spacing="0.42">ICMOMBasicAgreement_63</text>
<text x="344.20" y="620.14" font-size="12.2" fill="#333" text-anchor="end">0</text>
<text x="492.90" y="620.14" font-size="12.2" fill="#333" text-anchor="end">0</text>
<text x="660.70" y="620.14" font-size="12.2" fill="#333" text-anchor="end">0</text>
<text x="747.20" y="620.14" font-size="12.2" fill="#333" text-anchor="end">2</text>
<line x1="5" y1="626.67" x2="258" y2="626.67" stroke="#d3e6f8" stroke-width="1"/>
<text x="44.50" y="641.77" font-size="12.2" fill="#333" letter-spacing="0.42">ICMOMBasicAgreement_64</text>
<text x="344.20" y="640.27" font-size="12.2" fill="#333" text-anchor="end">0</text>
<text x="492.90" y="640.27" font-size="12.2" fill="#333" text-anchor="end">0</text>
<text x="660.70" y="640.27" font-size="12.2" fill="#333" text-anchor="end">0</text>
<text x="747.20" y="640.27" font-size="12.2" fill="#333" text-anchor="end">2</text>
<rect x="5.00" y="646.80" width="746.00" height="20.13" fill="#eeeeee"/>
<line x1="5" y1="646.80" x2="258" y2="646.80" stroke="#d3e6f8" stroke-width="1"/>
<text x="44.50" y="661.90" font-size="12.2" fill="#333" letter-spacing="0.42">ICMOMBasicAgreement_65</text>
<text x="344.20" y="660.40" font-size="12.2" fill="#333" text-anchor="end">0</text>
<text x="492.90" y="660.40" font-size="12.2" fill="#333" text-anchor="end">0</text>
<text x="660.70" y="660.40" font-size="12.2" fill="#333" text-anchor="end">0</text>
<text x="747.20" y="660.40" font-size="12.2" fill="#333" text-anchor="end">2</text>
<line x1="5" y1="666.93" x2="258" y2="666.93" stroke="#d3e6f8" stroke-width="1"/>
<text x="44.50" y="682.03" font-size="12.2" fill="#333" letter-spacing="0.42">ICMOMBasicAgreement_66</text>
<text x="344.20" y="680.53" font-size="12.2" fill="#333" text-anchor="end">0</text>
<text x="492.90" y="680.53" font-size="12.2" fill="#333" text-anchor="end">0</text>
<text x="660.70" y="680.53" font-size="12.2" fill="#333" text-anchor="end">0</text>
<text x="747.20" y="680.53" font-size="12.2" fill="#333" text-anchor="end">2</text>
<rect x="5.00" y="687.06" width="746.00" height="20.13" fill="#eeeeee"/>
<line x1="5" y1="687.06" x2="258" y2="687.06" stroke="#d3e6f8" stroke-width="1"/>
<text x="44.50" y="702.16" font-size="12.2" fill="#333" letter-spacing="0.42">ICMOMBasicAgreement_67</text>
<text x="344.20" y="700.66" font-size="12.2" fill="#333" text-anchor="end">0</text>
<text x="492.90" y="700.66" font-size="12.2" fill="#333" text-anchor="end">0</text>
<text x="660.70" y="700.66" font-size="12.2" fill="#333" text-anchor="end">0</text>
<text x="747.20" y="700.66" font-size="12.2" fill="#333" text-anchor="end">2</text>
<line x1="5" y1="707.19" x2="258" y2="707.19" stroke="#d3e6f8" stroke-width="1"/>
<text x="44.50" y="722.29" font-size="12.2" fill="#333" letter-spacing="0.42">ICMOMBasicAgreement_69</text>
<text x="344.20" y="720.79" font-size="12.2" fill="#333" text-anchor="end">0</text>
<text x="492.90" y="720.79" font-size="12.2" fill="#333" text-anchor="end">0</text>
<text x="660.70" y="720.79" font-size="12.2" fill="#333" text-anchor="end">0</text>
<text x="747.20" y="720.79" font-size="12.2" fill="#333" text-anchor="end">2</text>
<rect x="5.00" y="727.32" width="746.00" height="20.13" fill="#eeeeee"/>
<line x1="5" y1="727.32" x2="258" y2="727.32" stroke="#d3e6f8" stroke-width="1"/>
<text x="44.50" y="742.42" font-size="12.2" fill="#333" letter-spacing="0.42">ICMOMBasicAgreement_70</text>
<text x="344.20" y="740.92" font-size="12.2" fill="#333" text-anchor="end">0</text>
<text x="492.90" y="740.92" font-size="12.2" fill="#333" text-anchor="end">0</text>
<text x="660.70" y="740.92" font-size="12.2" fill="#333" text-anchor="end">0</text>
<text x="747.20" y="740.92" font-size="12.2" fill="#333" text-anchor="end">2</text>
<line x1="5" y1="747.45" x2="258" y2="747.45" stroke="#d3e6f8" stroke-width="1"/>
<text x="44.50" y="762.55" font-size="12.2" fill="#333" letter-spacing="0.42">ICMOMBasicAgreement_72</text>
<text x="344.20" y="761.05" font-size="12.2" fill="#333" text-anchor="end">0</text>
<text x="492.90" y="761.05" font-size="12.2" fill="#333" text-anchor="end">0</text>
<text x="660.70" y="761.05" font-size="12.2" fill="#333" text-anchor="end">0</text>
<text x="747.20" y="761.05" font-size="12.2" fill="#333" text-anchor="end">2</text>
</g>
<rect x="11.5" y="432.5" width="10" height="10.5" fill="#fff" stroke="#66a8ec" stroke-width="1"/>
<line x1="13.0" y1="437.9" x2="20.0" y2="437.9" stroke="#2f80da" stroke-width="1.1"/>
<text x="33.20" y="439.85" font-size="13" fill="#0f62c0" font-weight="bold">Basic Inheritance</text>
<line x1="5" y1="424.3" x2="751" y2="424.3" stroke="#5aa7ef" stroke-width="1.6"/>
<line x1="258.2" y1="424" x2="258.2" y2="762" stroke="#3f97ee" stroke-width="1"/>
<rect x="751.20" y="378.00" width="8.20" height="384.50" fill="#f0f0f0"/>
<rect x="751.20" y="408.00" width="8.20" height="47.50" fill="#c8c8c8"/>
<path d="M752.6,395 L755.5,390.3 L758.4,395" fill="none" stroke="#333" stroke-width="1.1"/>
<path d="M752.6,745.6 L755.5,750.3 L758.4,745.6" fill="none" stroke="#333" stroke-width="1.1"/>
<rect x="5.00" y="762.00" width="746.50" height="11.00" fill="#f0f0f0"/>
<rect x="35.00" y="762.00" width="358.00" height="11.00" fill="#c8c8c8"/>
<path d="M22.3,764.4 L17.3,767.6 L22.3,770.8" fill="none" stroke="#444" stroke-width="0.9"/>
<path d="M735,764.6 L740,767.8 L735,771" fill="none" stroke="#444" stroke-width="0.9"/>
<rect x="769.6" y="371.6" width="400.20" height="168.40" fill="#fff" stroke="#e8e8e8" stroke-width="1.25"/>
<text transform="translate(971.50 383.51) scale(1.013 1)" font-size="12.6" fill="#a2a2a2" text-anchor="middle" font-weight="bold" stroke="#fff" stroke-width="0.15" style="paint-order:fill stroke">Fulfillment Status</text>
<path d="M971.40,409.30 A55.7,55.7 0 1 1 920.39,487.38 L940.63,478.50 A33.6,33.6 0 1 0 971.40,431.40 Z" fill="#d64550"/>
<path d="M920.39,487.38 A55.7,55.7 0 0 1 924.77,434.54 L943.27,446.62 A33.6,33.6 0 0 0 940.63,478.50 Z" fill="#a0d1ff"/>
<path d="M924.77,434.54 A55.7,55.7 0 0 1 943.99,416.51 L954.86,435.75 A33.6,33.6 0 0 0 943.27,446.62 Z" fill="#41c957"/>
<path d="M943.99,416.51 A55.7,55.7 0 0 1 965.25,409.64 L967.69,431.61 A33.6,33.6 0 0 0 954.86,435.75 Z" fill="#efb5b9"/>
<path d="M965.25,409.64 A55.7,55.7 0 0 1 971.40,409.30 L971.40,431.40 A33.6,33.6 0 0 0 967.69,431.61 Z" fill="#d9b300"/>
<text x="940.00" y="407.72" font-size="11.5" fill="#64625f" text-anchor="end">Cancelled 6.43%</text>
<text x="910.00" y="422.72" font-size="11.5" fill="#64625f" text-anchor="end">Approved 7.6%</text>
<text x="890.00" y="464.12" font-size="11.5" fill="#64625f" text-anchor="end">Draft 15.79%</text>
<text x="1042.50" y="503.92" font-size="11.5" fill="#64625f">Overdue 68.42%</text>
<path d="M945,403.5 L958.7,403.5 L959.6,408" fill="none" stroke="#a0a0a0" stroke-width="1"/>
<path d="M915.5,418.2 L928.7,418.2 L932,422.3" fill="none" stroke="#a0a0a0" stroke-width="1"/>
<path d="M895.5,459.6 L913.7,459.6" fill="none" stroke="#a0a0a0" stroke-width="1"/>
<path d="M1020,496.2 L1025,499.3 L1036.2,499.3" fill="none" stroke="#a0a0a0" stroke-width="1"/>
<rect x="772.4" y="546.55" width="400.80" height="112.85" fill="#fff" stroke="#e8e8e8" stroke-width="1.25"/>
<text transform="translate(974.40 558.81) scale(1.0 1)" font-size="12.6" fill="#a2a2a2" text-anchor="middle" font-weight="bold" stroke="#fff" stroke-width="0.15" style="paint-order:fill stroke">Fulfillment Distribution</text>
<rect x="888.00" y="571.25" width="276.00" height="25.25" fill="#a0d1ff"/>
<rect x="1015.50" y="599.30" width="21.00" height="25.25" fill="#2cd632"/>
<rect x="1023.40" y="627.40" width="5.00" height="25.25" fill="#d9b300"/>
<text x="779.20" y="587.90" font-size="12" fill="#64625f">Total</text>
<text x="779.20" y="615.90" font-size="12" fill="#64625f">Approved</text>
<text x="779.20" y="644.00" font-size="12" fill="#64625f">Waiting For Appr...</text>
<text x="1026.00" y="589.30" font-size="12" fill="#fff" text-anchor="middle" font-weight="bold">171</text>
<text x="1046.50" y="617.90" font-size="12" fill="#64625f" letter-spacing="0.2">13 (7.6%)</text>
<text x="1037.80" y="645.90" font-size="12" fill="#64625f" letter-spacing="0.2">3 (1.75%)</text>
<rect x="770.9" y="665.2" width="401.00" height="110.20" fill="#fff" stroke="#e8e8e8" stroke-width="1.25"/>
<text transform="translate(973.00 678.11) scale(0.97 1)" font-size="12.6" fill="#a2a2a2" text-anchor="middle" font-weight="bold" stroke="#fff" stroke-width="0.15" style="paint-order:fill stroke">Obligation Distribution</text>
<rect x="853.00" y="689.40" width="309.75" height="18.20" fill="#a0d1ff"/>
<rect x="925.90" y="710.30" width="164.10" height="18.00" fill="#2cd632"/>
<rect x="1007.25" y="730.60" width="1.30" height="18.30" fill="#d9b300"/>
<rect x="1002.80" y="751.00" width="10.40" height="18.20" fill="#d64550"/>
<text x="778.00" y="702.30" font-size="12" fill="#64625f">Total</text>
<text x="778.00" y="722.90" font-size="12" fill="#64625f">Approved</text>
<text x="778.00" y="743.30" font-size="12" fill="#64625f">On Hold</text>
<text x="778.00" y="764.30" font-size="12" fill="#64625f">Withdrawn</text>
<text x="1099.80" y="723.81" font-size="11.2" fill="#64625f">126 (52.94%)</text>
<text x="1019.00" y="743.74" font-size="11.0" fill="#64625f">1 (0.42%)</text>
<text x="1022.30" y="765.01" font-size="11.2" fill="#64625f">8 (3.36%)</text>
</svg></body></html>
